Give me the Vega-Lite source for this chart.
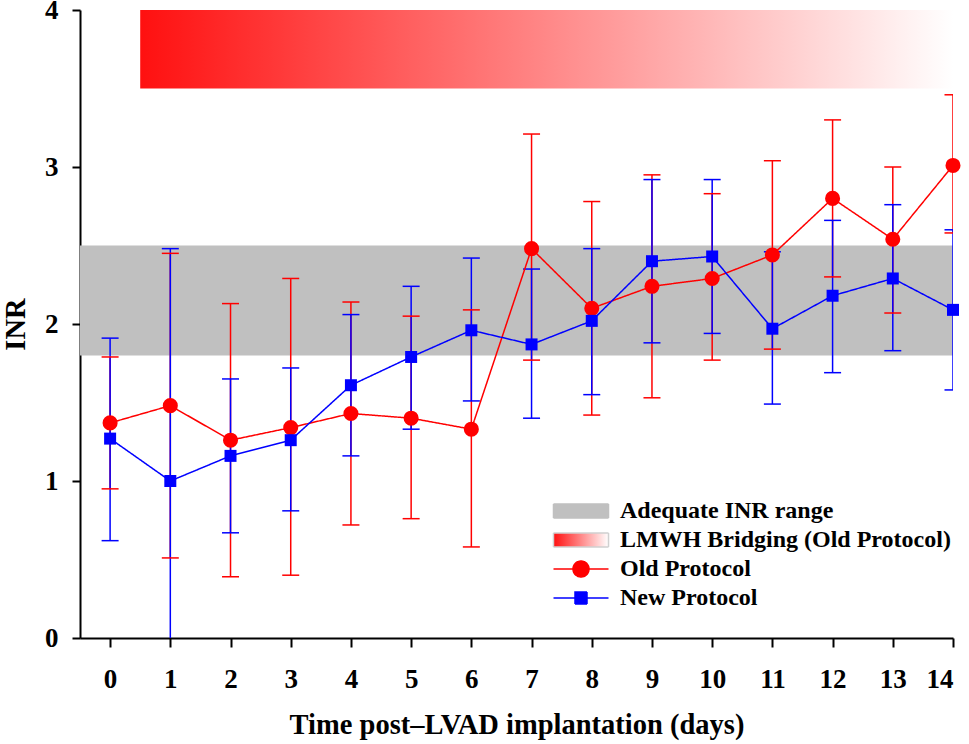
{
  "$schema": "https://vega.github.io/schema/vega-lite/v6.json",
  "width": 873,
  "height": 628,
  "autosize": {"type": "none"},
  "padding": {"left": 80, "top": 10, "right": 16, "bottom": 106},
  "background": "white",
  "config": {
    "view": {"stroke": null},
    "font": "Liberation Serif",
    "axis": {
      "grid": false,
      "domainColor": "black",
      "domainWidth": 2,
      "tickColor": "black",
      "tickWidth": 2,
      "labelFont": "Liberation Serif",
      "labelFontSize": 27,
      "labelFontWeight": "bold",
      "labelColor": "black",
      "titleFont": "Liberation Serif",
      "titleFontSize": 28.5,
      "titleFontWeight": "bold",
      "titleColor": "black"
    }
  },
  "datasets": {
    "inr": [
      {"day": 0, "protocol": "Old Protocol", "mean": 1.37, "lo": 0.95, "hi": 1.79},
      {"day": 1, "protocol": "Old Protocol", "mean": 1.48, "lo": 0.51, "hi": 2.45},
      {"day": 2, "protocol": "Old Protocol", "mean": 1.26, "lo": 0.39, "hi": 2.13},
      {"day": 3, "protocol": "Old Protocol", "mean": 1.34, "lo": 0.40, "hi": 2.29},
      {"day": 4, "protocol": "Old Protocol", "mean": 1.43, "lo": 0.72, "hi": 2.14},
      {"day": 5, "protocol": "Old Protocol", "mean": 1.40, "lo": 0.76, "hi": 2.05},
      {"day": 6, "protocol": "Old Protocol", "mean": 1.33, "lo": 0.58, "hi": 2.09},
      {"day": 7, "protocol": "Old Protocol", "mean": 2.48, "lo": 1.77, "hi": 3.21},
      {"day": 8, "protocol": "Old Protocol", "mean": 2.10, "lo": 1.42, "hi": 2.78},
      {"day": 9, "protocol": "Old Protocol", "mean": 2.24, "lo": 1.53, "hi": 2.95},
      {"day": 10, "protocol": "Old Protocol", "mean": 2.29, "lo": 1.77, "hi": 2.83},
      {"day": 11, "protocol": "Old Protocol", "mean": 2.44, "lo": 1.84, "hi": 3.04},
      {"day": 12, "protocol": "Old Protocol", "mean": 2.80, "lo": 2.30, "hi": 3.30},
      {"day": 13, "protocol": "Old Protocol", "mean": 2.54, "lo": 2.07, "hi": 3.00},
      {"day": 14, "protocol": "Old Protocol", "mean": 3.01, "lo": 2.58, "hi": 3.46},
      {"day": 0, "protocol": "New Protocol", "mean": 1.27, "lo": 0.62, "hi": 1.91},
      {"day": 1, "protocol": "New Protocol", "mean": 1.00, "lo": -0.47, "hi": 2.48},
      {"day": 2, "protocol": "New Protocol", "mean": 1.16, "lo": 0.67, "hi": 1.65},
      {"day": 3, "protocol": "New Protocol", "mean": 1.26, "lo": 0.81, "hi": 1.72},
      {"day": 4, "protocol": "New Protocol", "mean": 1.61, "lo": 1.16, "hi": 2.06},
      {"day": 5, "protocol": "New Protocol", "mean": 1.79, "lo": 1.33, "hi": 2.24},
      {"day": 6, "protocol": "New Protocol", "mean": 1.96, "lo": 1.51, "hi": 2.42},
      {"day": 7, "protocol": "New Protocol", "mean": 1.87, "lo": 1.40, "hi": 2.35},
      {"day": 8, "protocol": "New Protocol", "mean": 2.02, "lo": 1.55, "hi": 2.48},
      {"day": 9, "protocol": "New Protocol", "mean": 2.40, "lo": 1.88, "hi": 2.92},
      {"day": 10, "protocol": "New Protocol", "mean": 2.43, "lo": 1.94, "hi": 2.92},
      {"day": 11, "protocol": "New Protocol", "mean": 1.97, "lo": 1.49, "hi": 2.46},
      {"day": 12, "protocol": "New Protocol", "mean": 2.18, "lo": 1.69, "hi": 2.66},
      {"day": 13, "protocol": "New Protocol", "mean": 2.29, "lo": 1.83, "hi": 2.76},
      {"day": 14, "protocol": "New Protocol", "mean": 2.09, "lo": 1.58, "hi": 2.60}
    ],
    "band": [{"lo": 1.8, "hi": 2.5}],
    "bridge": [{"start": 0.5, "end": 14, "lo": 3.5, "hi": 4}]
  },
  "layer": [
    {
      "data": {"name": "band"},
      "mark": {"type": "rect", "fill": "#c0c0c0"},
      "encoding": {
        "y": {"field": "lo", "type": "quantitative", "scale": {"domain": [0, 4], "nice": false}},
        "y2": {"field": "hi"}
      }
    },
    {
      "data": {"name": "bridge"},
      "mark": {
        "type": "rect",
        "fill": {
          "gradient": "linear",
          "x1": 0, "y1": 0, "x2": 1, "y2": 0,
          "stops": [
            {"offset": 0, "color": "#ff1010"},
            {"offset": 1, "color": "#ffffff"}
          ]
        }
      },
      "encoding": {
        "x": {"field": "start", "type": "quantitative"},
        "x2": {"field": "end"},
        "y": {"field": "lo", "type": "quantitative"},
        "y2": {"field": "hi"}
      }
    },
    {
      "data": {"name": "inr"},
      "mark": {"type": "rule", "strokeWidth": 1.5, "clip": true},
      "encoding": {
        "x": {"field": "day", "type": "quantitative"},
        "y": {"field": "lo", "type": "quantitative"},
        "y2": {"field": "hi"},
        "color": {"field": "protocol", "type": "nominal", "legend": null}
      }
    },
    {
      "data": {"name": "inr"},
      "mark": {"type": "tick", "orient": "horizontal", "size": 17, "thickness": 1.5, "opacity": 1, "clip": true},
      "encoding": {
        "x": {"field": "day", "type": "quantitative"},
        "y": {"field": "lo", "type": "quantitative"},
        "color": {"field": "protocol", "type": "nominal", "legend": null}
      }
    },
    {
      "data": {"name": "inr"},
      "mark": {"type": "tick", "orient": "horizontal", "size": 17, "thickness": 1.5, "opacity": 1, "clip": true},
      "encoding": {
        "x": {"field": "day", "type": "quantitative"},
        "y": {"field": "hi", "type": "quantitative"},
        "color": {"field": "protocol", "type": "nominal", "legend": null}
      }
    },
    {
      "data": {"name": "inr"},
      "mark": {"type": "line", "strokeWidth": 1.5},
      "encoding": {
        "x": {
          "field": "day",
          "type": "quantitative",
          "scale": {"domain": [-0.5, 14], "nice": false, "zero": false},
          "axis": {
            "values": [0, 1, 2, 3, 4, 5, 6, 7, 8, 9, 10, 11, 12, 13, 14],
            "format": "d",
            "title": "Time post\u2013LVAD implantation (days)",
            "tickSize": 9,
            "labelPadding": 19,
            "titlePadding": 18
          }
        },
        "y": {
          "field": "mean",
          "type": "quantitative",
          "axis": {
            "values": [0, 1, 2, 3, 4],
            "format": "d",
            "title": "INR",
            "tickSize": 8,
            "labelPadding": 14,
            "titlePadding": 14
          }
        },
        "color": {
          "field": "protocol",
          "type": "nominal",
          "scale": {
            "domain": ["Old Protocol", "New Protocol", "Adequate INR range", "LMWH Bridging (Old Protocol)"],
            "range": ["#ff0000", "#0000ff", "#c0c0c0", "#ff7070"]
          },
          "legend": null
        },
        "strokeDash": {
          "field": "protocol",
          "type": "nominal",
          "scale": {
            "domain": ["Adequate INR range", "LMWH Bridging (Old Protocol)", "Old Protocol", "New Protocol"],
            "range": [[1, 0], [1, 0], [1, 0], [1, 0]]
          },
          "legend": {
            "title": null,
            "orient": "none",
            "legendX": 489,
            "legendY": 489,
            "padding": 0,
            "symbolSize": 400,
            "symbolOffset": 0,
            "labelOffset": 27,
            "rowPadding": 5,
            "labelFont": "Liberation Serif",
            "labelFontSize": 24,
            "labelFontWeight": "bold",
            "labelColor": "black",
            "labelLimit": 400,
            "encode": {
              "symbols": {
                "update": {
                  "shape": [
                    {"test": "datum.value === 'Old Protocol'", "value": "M-2.75,0H2.75M0.8,0A0.8,0.8,0,1,1,-0.8,0A0.8,0.8,0,1,1,0.8,0Z"},
                    {"test": "datum.value === 'New Protocol'", "value": "M-2.75,0H2.75M-0.6,-0.6H0.6V0.6H-0.6Z"},
                    {"value": "M-2.75,-0.7H2.75V0.7H-2.75Z"}
                  ],
                  "fill": [
                    {"test": "datum.value === 'LMWH Bridging (Old Protocol)'", "value": {"gradient": "linear", "x1": 0, "y1": 0, "x2": 1, "y2": 0, "stops": [{"offset": 0, "color": "#ff1010"}, {"offset": 1, "color": "#ffffff"}]}},
                    {"scale": "color", "field": "value"}
                  ],
                  "stroke": [
                    {"test": "datum.value === 'LMWH Bridging (Old Protocol)'", "value": "#d0d0d0"},
                    {"scale": "color", "field": "value"}
                  ],
                  "strokeWidth": {"value": 1.5},
                  "opacity": {"value": 1},
                  "fillOpacity": {"value": 1},
                  "strokeOpacity": {"value": 1}
                }
              }
            }
          }
        }
      }
    },
    {
      "data": {"name": "inr"},
      "transform": [{"filter": "datum.protocol === 'Old Protocol'"}],
      "mark": {"type": "point", "shape": "circle", "filled": true, "fill": "#ff0000", "size": 227, "opacity": 1},
      "encoding": {
        "x": {"field": "day", "type": "quantitative"},
        "y": {"field": "mean", "type": "quantitative"}
      }
    },
    {
      "data": {"name": "inr"},
      "transform": [{"filter": "datum.protocol === 'New Protocol'"}],
      "mark": {"type": "point", "shape": "square", "filled": true, "fill": "#0000ff", "size": 144, "opacity": 1},
      "encoding": {
        "x": {"field": "day", "type": "quantitative"},
        "y": {"field": "mean", "type": "quantitative"}
      }
    }
  ]
}
